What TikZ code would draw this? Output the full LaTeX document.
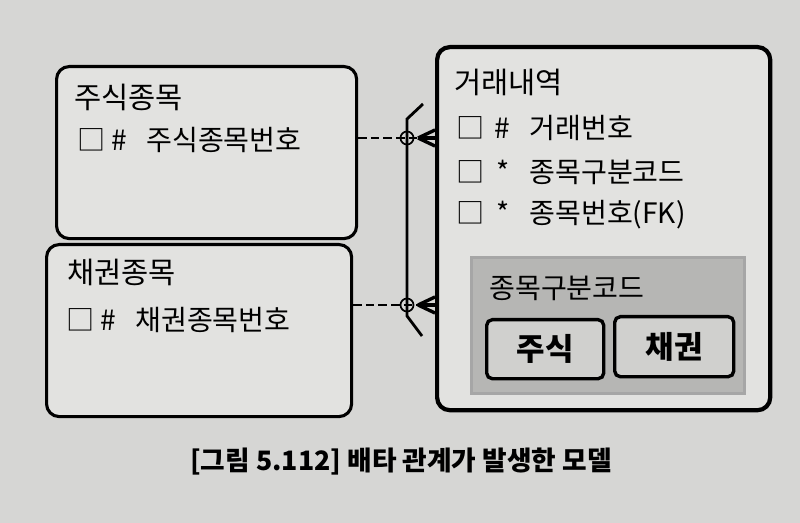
\documentclass[tikz,border=0pt]{standalone}
\usepackage{fontspec}
\setmainfont{Noto Sans CJK KR}
\usetikzlibrary{arrows.meta,positioning,calc}
\definecolor{paper}{RGB}{214,214,212}
\definecolor{boxfill}{RGB}{226,226,224}
\definecolor{subfill}{RGB}{182,182,180}
\definecolor{btnfill}{RGB}{208,208,206}

\tikzset{
  entity/.style={draw=black,line width=2.2pt,rounded corners=9pt,fill=boxfill,
                 anchor=north west,inner sep=0pt},
  txt/.style={anchor=west,inner sep=0pt,font=\fontsize{20pt}{22pt}\selectfont},
  ttl/.style={txt,font=\fontsize{21pt}{22pt}\selectfont},
  btn/.style={draw=black,line width=2.4pt,rounded corners=4pt,fill=btnfill,
              anchor=north west,inner sep=0pt,
              font=\fontsize{22pt}{22pt}\selectfont\bfseries},
  rel/.style={line width=2pt},
}

\begin{document}
\begin{tikzpicture}[x=0.025cm,y=-0.025cm]

% page
\fill[paper] (0,0) rectangle (800,523);
\useasboundingbox (0,0) rectangle (800,523);

% entities
\node[entity,minimum width=7.5cm,minimum height=4.3cm] (stock) at (55,65) {};
\node[entity,minimum width=7.625cm,minimum height=4.3cm] (bond) at (45,243) {};
\node[entity,line width=3pt,minimum width=8.325cm,minimum height=9.075cm]
  (trade) at (435,45) {};

% subtype box
\node[draw=gray!70,line width=2pt,fill=subfill,anchor=north west,
      minimum width=6.825cm,minimum height=3.4cm] (sub) at (470,256) {};
\node[txt] (sublbl) at (489,288) {종목구분코드};
\node[btn,minimum width=2.925cm,minimum height=1.475cm] (btnstock) at (485,318) {주식};
\node[btn,minimum width=2.975cm,minimum height=1.5cm] (btnbond) at (613,315) {채권};

% entity texts
\node[ttl] (stockname) at (74,97) {주식종목};
\node[txt] (stockpk) at (77,140) {□\hspace{4pt}\#\hspace{14pt}주식종목번호};
\node[ttl] (bondname) at (67,272) {채권종목};
\node[txt] (bondpk) at (66,320) {□\hspace{4pt}\#\hspace{14pt}채권종목번호};
\node[ttl] (tradename) at (454,82) {거래내역};
\foreach \y/\m/\t [count=\i] in {128/\#/거래번호, 172/*/종목구분코드, 215/*/종목번호(FK)}{
  \node[txt] (row\i) at (456,\y) {□\hspace{6pt}\makebox[14pt]{\m}\hspace{12pt}\t};
}

% relationships
\coordinate (tin1) at (435,138);
\coordinate (tin2) at (435,305);
\coordinate (foot1) at (418,138);
\coordinate (foot2) at (418,305);
\draw[rel,dash pattern=on 6pt off 3pt] (stock.east |- tin1) -- (foot1);
\draw[rel,dash pattern=on 6pt off 3pt] (bond.east |- tin2) -- (foot2);
\foreach \f/\e in {foot1/tin1, foot2/tin2}{
  \draw[rel,line width=2.4pt] (\f) -- (\e);
  \draw[rel,line width=2.4pt] (\f) -- ($(\e)+(0,-8)$);
  \draw[rel,line width=2.4pt] (\f) -- ($(\e)+(0,8)$);
}
\draw[line width=1.2pt] (407,138) circle (6.5);
\draw[line width=1.2pt] (407,305) circle (6.5);

% exclusive arc
\coordinate (arctop) at (407,119);
\coordinate (arcbot) at (407,316);
\draw[rel] (423,104) -- (arctop) -- (arcbot) -- (422,336);

% caption
\node[font=\fontsize{19pt}{22pt}\selectfont\bfseries] (caption) at (401,462)
  {[그림 5.112] 배타 관계가 발생한 모델};

\end{tikzpicture}
\end{document}
